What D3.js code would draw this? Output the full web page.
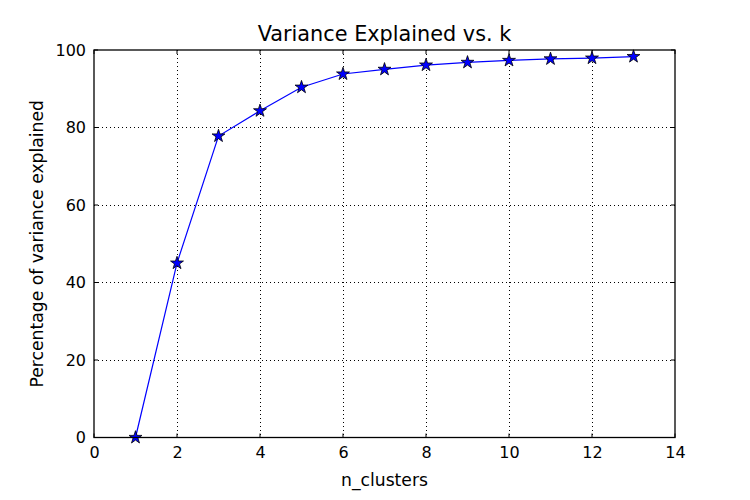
<!DOCTYPE html>
<html><head><meta charset="utf-8">
<script src="https://cdn.jsdelivr.net/npm/d3@7"></script>
<style>body{margin:0;background:#fff}svg{display:block}text{font-family:"DejaVu Sans",sans-serif}</style>
</head><body><svg id="c" width="750" height="500"></svg>
<script>
const kValues = [1,2,3,4,5,6,7,8,9,10,11,12,13];
const varExplained = [0,45.0,77.8,84.3,90.4,93.8,95.0,96.1,96.8,97.3,97.7,97.9,98.3];
const xTicks = [0,2,4,6,8,10,12,14];
const yTicks = [0,20,40,60,80,100];
const title = "Variance Explained vs. k";
const xLabel = "n_clusters";
const yLabel = "Percentage of variance explained";

const svg = d3.select("#c");
const L=94, R=675, T=50, B=437.5;
const x = d3.scaleLinear().domain([0,14]).range([L,R]);
const y = d3.scaleLinear().domain([0,100]).range([B,T]);

// grid
const g = svg.append("g");
g.selectAll(".gx").data(xTicks.slice(1,-1)).enter().append("line")
 .attr("x1",d=>x(d)).attr("x2",d=>x(d)).attr("y1",T).attr("y2",B)
 .attr("stroke","#000").attr("stroke-width",1).attr("stroke-dasharray","1,3").attr("shape-rendering","crispEdges");
g.selectAll(".gy").data(yTicks.slice(1,-1)).enter().append("line")
 .attr("y1",d=>y(d)).attr("y2",d=>y(d)).attr("x1",L).attr("x2",R)
 .attr("stroke","#000").attr("stroke-width",1).attr("stroke-dasharray","1,3").attr("shape-rendering","crispEdges");

// ticks inward on all sides
const tl=4;
xTicks.forEach(d=>{
  g.append("line").attr("x1",x(d)).attr("x2",x(d)).attr("y1",B).attr("y2",B-tl).attr("stroke","#000");
  g.append("line").attr("x1",x(d)).attr("x2",x(d)).attr("y1",T).attr("y2",T+tl).attr("stroke","#000");
});
yTicks.forEach(d=>{
  g.append("line").attr("x1",L).attr("x2",L+tl).attr("y1",y(d)).attr("y2",y(d)).attr("stroke","#000");
  g.append("line").attr("x1",R).attr("x2",R-tl).attr("y1",y(d)).attr("y2",y(d)).attr("stroke","#000");
});

const xa = svg.append("g").attr("transform",`translate(0,${B})`)
 .call(d3.axisBottom(x).tickValues(xTicks).tickSize(0).tickPadding(9).tickFormat(d3.format("d")));
xa.select(".domain").remove();
xa.selectAll("text").attr("font-size",16).attr("fill","#000").attr("font-family","DejaVu Sans");
const ya = svg.append("g").attr("transform",`translate(${L},0)`)
 .call(d3.axisLeft(y).tickValues(yTicks).tickSize(0).tickPadding(8).tickFormat(d3.format("d")));
ya.select(".domain").remove();
ya.selectAll("text").attr("font-size",16).attr("fill","#000").attr("font-family","DejaVu Sans");

// line
svg.append("path").datum(kValues.map((k,i)=>[k,varExplained[i]]))
 .attr("d",d3.line().x(d=>x(d[0])).y(d=>y(d[1])))
 .attr("fill","none").attr("stroke","#0000ff").attr("stroke-width",1.2);

// markers
const star = d3.symbol().type(d3.symbolStar).size(52);
svg.selectAll(".m").data(kValues.map((k,i)=>[k,varExplained[i]])).enter().append("path")
 .attr("d",star).attr("transform",d=>`translate(${x(d[0])},${y(d[1])})`)
 .attr("fill","#0000ff").attr("stroke","#000").attr("stroke-width",0.8);

// frame
svg.append("rect").attr("x",L).attr("y",T).attr("width",R-L).attr("height",B-T)
 .attr("fill","none").attr("stroke","#000").attr("stroke-width",1.3);

// title & labels
svg.append("text").attr("x",(L+R)/2).attr("y",41).attr("text-anchor","middle").attr("font-size",20.8).text(title);
svg.append("text").attr("x",(L+R)/2).attr("y",486).attr("text-anchor","middle").attr("font-size",17.2).text(xLabel);
svg.append("text").attr("transform",`translate(43,${(T+B)/2}) rotate(-90)`).attr("text-anchor","middle").attr("font-size",17.2).text(yLabel);
</script></body></html>
